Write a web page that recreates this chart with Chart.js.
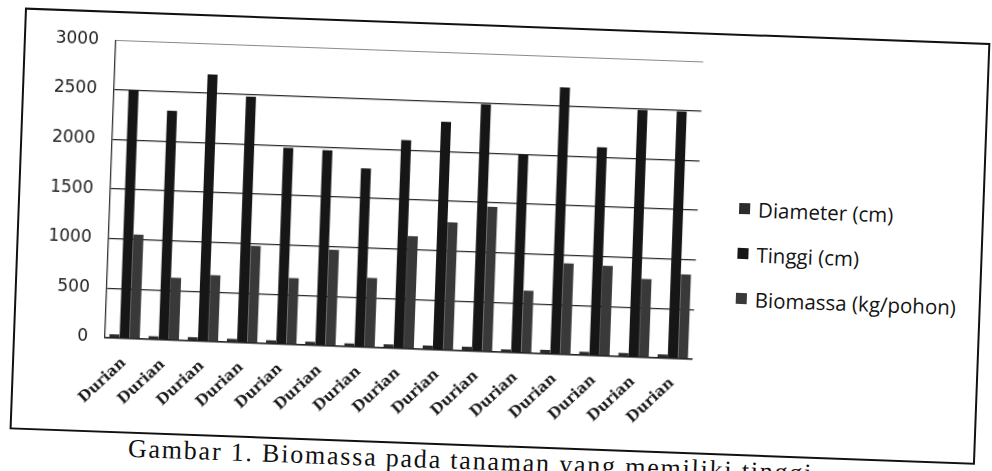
<!DOCTYPE html>
<html>
<head>
<meta charset="utf-8">
<script src="https://cdn.jsdelivr.net/npm/chart.js@4.4.1/dist/chart.umd.min.js"></script>
<style>
  html, body { margin: 0; padding: 0; background: #fff; width: 992px; height: 471px; overflow: hidden; }
  #page { position: absolute; left: 0; top: 0; width: 992px; height: 471px;
          transform: rotate(2.1deg); transform-origin: 496px 235px; }
  #frame { position: absolute; left: 17px; top: 25px; width: 962px; height: 418px;
           border: 2px solid #111; }
  #chart { position: absolute; left: 49px; top: 27px; }
  #legend { position: absolute; left: 738px; top: 177px; font-family: "Open Sans", sans-serif;
            font-size: 20.5px; color: #141414; }
  #legend .item { display: flex; align-items: center; height: 45px; white-space: nowrap; }
  #legend .swatch { width: 11px; height: 11px; margin-right: 8px; flex: none; }
  #caption { position: absolute; left: 136px; top: 447px; font-family: "Liberation Serif", serif;
             font-size: 26px; letter-spacing: 1.8px; color: #111; white-space: nowrap; }
</style>
</head>
<body>
<div id="page">
  <div id="frame"></div>
  <canvas id="chart" width="657" height="405"></canvas>
  <div id="legend"></div>
  <div id="caption">Gambar 1. Biomassa pada tanaman yang memiliki tinggi</div>
</div>
<script>
// Tree samples (all durian)
const categories = ["Durian", "Durian", "Durian", "Durian", "Durian", "Durian", "Durian", "Durian",
                    "Durian", "Durian", "Durian", "Durian", "Durian", "Durian", "Durian"];

// Measurements per tree
const diameterCm = [37, 33, 38, 36, 34, 35, 32, 38, 40, 42, 30, 40, 36, 38, 37];
const tinggiCm = [2500, 2310, 2690, 2480, 1980, 1970, 1800, 2100, 2300, 2490, 1995, 2690, 2100, 2490, 2490];
const biomassaKg = [1050, 630, 670, 980, 670, 970, 700, 1135, 1290, 1460, 630, 920, 910, 790, 850];

// Value axis ticks
const yTicks = [0, 500, 1000, 1500, 2000, 2500, 3000];

const seriesNames = ["Diameter (cm)", "Tinggi (cm)", "Biomassa (kg/pohon)"];
const seriesColors = ["#2b2b2b", "#161616", "#393939"];

const chart = new Chart(document.getElementById("chart"), {
  type: "bar",
  data: {
    labels: categories,
    datasets: [
      { label: seriesNames[0], data: diameterCm, backgroundColor: seriesColors[0] },
      { label: seriesNames[1], data: tinggiCm, backgroundColor: seriesColors[1] },
      { label: seriesNames[2], data: biomassaKg, backgroundColor: seriesColors[2] }
    ]
  },
  options: {
    responsive: false,
    animation: false,
    devicePixelRatio: 1,
    layout: { padding: { top: 20, right: 5, left: 0, bottom: 0 } },
    datasets: { bar: { categoryPercentage: 0.78, barPercentage: 0.98, borderWidth: 0 } },
    plugins: { legend: { display: false }, tooltip: { enabled: false } },
    scales: {
      x: {
        grid: { color: "rgba(0,0,0,0)", drawTicks: false },
        border: { display: true, color: "#222", width: 1.4 },
        afterFit: (s) => { s.height = 80; },
        ticks: {
          minRotation: 45, maxRotation: 45, padding: 16, color: "#1a1a1a",
          font: { family: "DejaVu Serif", size: 15, weight: "bold" }
        }
      },
      y: {
        min: yTicks[0],
        max: yTicks[yTicks.length - 1],
        afterFit: (s) => { s.width = 60; },
        afterBuildTicks: (s) => { s.ticks = yTicks.map(v => ({ value: v })); },
        grid: {
          drawTicks: false,
          color: (ctx) => (ctx.tick && ctx.tick.value === 3000 ? "#8a8a8a" : "#2a2a2a"),
          lineWidth: (ctx) => (ctx.tick && ctx.tick.value === 3000 ? 1 : 1.3)
        },
        border: { display: true, color: "#333", width: 1.3 },
        ticks: {
          padding: 17, color: "#222",
          font: { family: "DejaVu Sans", size: 17 },
          callback: (v) => String(v)
        }
      }
    }
  }
});

// Legend built from the chart's datasets
const legend = document.getElementById("legend");
chart.data.datasets.forEach((ds) => {
  const item = document.createElement("div");
  item.className = "item";
  const sw = document.createElement("span");
  sw.className = "swatch";
  sw.style.background = ds.backgroundColor;
  const txt = document.createElement("span");
  txt.textContent = ds.label;
  item.appendChild(sw);
  item.appendChild(txt);
  legend.appendChild(item);
});
</script>
</body>
</html>
